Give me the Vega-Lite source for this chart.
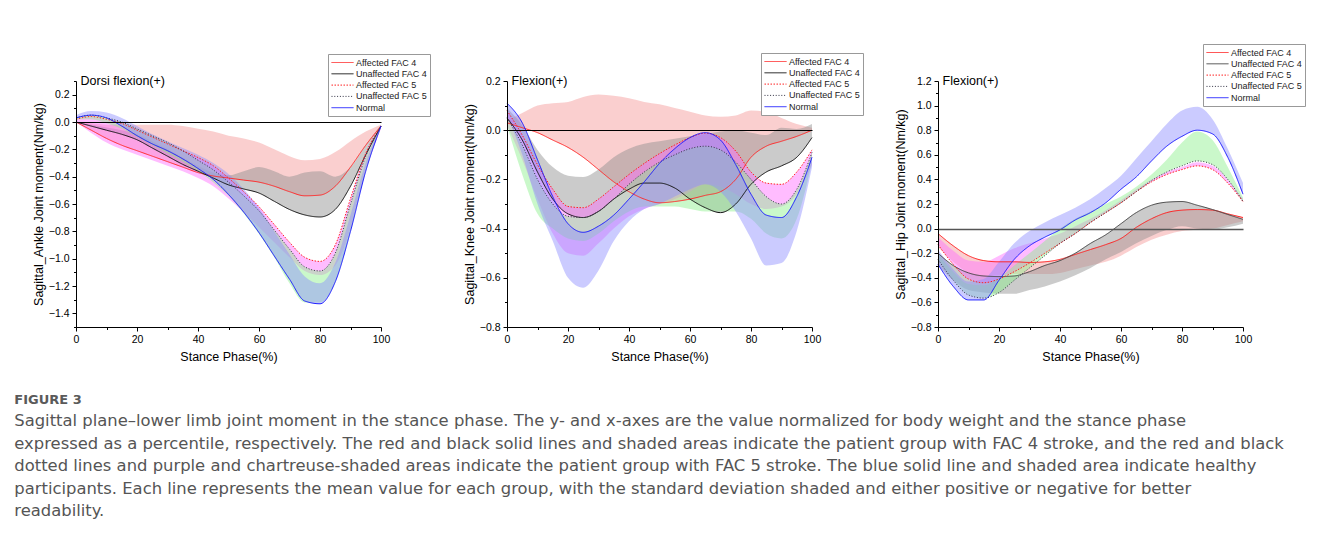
{
"$schema": "https://vega.github.io/schema/vega-lite/v6.json",
"padding": {"left": 14, "top": 43, "right": 10, "bottom": 5},
"background": "white",
"title": {
  "text": "FIGURE 3",
  "subtitle": [
    "Sagittal plane–lower limb joint moment in the stance phase. The y- and x-axes are the value normalized for body weight and the stance phase",
    "expressed as a percentile, respectively. The red and black solid lines and shaded areas indicate the patient group with FAC 4 stroke, and the red and black",
    "dotted lines and purple and chartreuse-shaded areas indicate the patient group with FAC 5 stroke. The blue solid line and shaded area indicate healthy",
    "participants. Each line represents the mean value for each group, with the standard deviation shaded and either positive or negative for better",
    "readability."
  ],
  "orient": "bottom", "anchor": "start", "frame": "bounds", "dx": -18, "offset": 31,
  "font": "DejaVu Sans", "fontSize": 13, "fontWeight": "bold", "color": "#5a5a5a",
  "subtitleFont": "DejaVu Sans", "subtitleFontSize": 16.4, "subtitleColor": "#555555",
  "subtitleLineHeight": 22.5, "subtitlePadding": 6
},
"datasets": {
"ankle": [
{"g":"Affected FAC 4","x":0,"m":0,"b":0},{"g":"Affected FAC 4","x":5,"m":-0.06,"b":-0.01},{"g":"Affected FAC 4","x":10,"m":-0.12,"b":-0.02},{"g":"Affected FAC 4","x":15,"m":-0.17,"b":-0.02},{"g":"Affected FAC 4","x":20,"m":-0.21,"b":-0.02},{"g":"Affected FAC 4","x":25,"m":-0.25,"b":-0.02},{"g":"Affected FAC 4","x":30,"m":-0.29,"b":-0.02},{"g":"Affected FAC 4","x":35,"m":-0.33,"b":-0.03},{"g":"Affected FAC 4","x":40,"m":-0.37,"b":-0.05},{"g":"Affected FAC 4","x":45,"m":-0.395,"b":-0.07},{"g":"Affected FAC 4","x":50,"m":-0.41,"b":-0.1},{"g":"Affected FAC 4","x":55,"m":-0.425,"b":-0.12},{"g":"Affected FAC 4","x":60,"m":-0.44,"b":-0.15},{"g":"Affected FAC 4","x":65,"m":-0.47,"b":-0.2},{"g":"Affected FAC 4","x":70,"m":-0.51,"b":-0.25},{"g":"Affected FAC 4","x":75,"m":-0.54,"b":-0.28},{"g":"Affected FAC 4","x":80,"m":-0.535,"b":-0.27},{"g":"Affected FAC 4","x":85,"m":-0.47,"b":-0.22},{"g":"Affected FAC 4","x":90,"m":-0.33,"b":-0.14},{"g":"Affected FAC 4","x":95,"m":-0.17,"b":-0.07},{"g":"Affected FAC 4","x":100,"m":-0.03,"b":-0.02},
{"g":"Unaffected FAC 4","x":0,"m":0,"b":0},{"g":"Unaffected FAC 4","x":5,"m":-0.03,"b":-0.02},{"g":"Unaffected FAC 4","x":10,"m":-0.06,"b":-0.04},{"g":"Unaffected FAC 4","x":15,"m":-0.09,"b":-0.06},{"g":"Unaffected FAC 4","x":20,"m":-0.13,"b":-0.09},{"g":"Unaffected FAC 4","x":25,"m":-0.19,"b":-0.14},{"g":"Unaffected FAC 4","x":30,"m":-0.25,"b":-0.2},{"g":"Unaffected FAC 4","x":35,"m":-0.31,"b":-0.26},{"g":"Unaffected FAC 4","x":40,"m":-0.36,"b":-0.32},{"g":"Unaffected FAC 4","x":45,"m":-0.41,"b":-0.37},{"g":"Unaffected FAC 4","x":50,"m":-0.46,"b":-0.39},{"g":"Unaffected FAC 4","x":55,"m":-0.49,"b":-0.36},{"g":"Unaffected FAC 4","x":60,"m":-0.52,"b":-0.33},{"g":"Unaffected FAC 4","x":65,"m":-0.58,"b":-0.36},{"g":"Unaffected FAC 4","x":70,"m":-0.64,"b":-0.4},{"g":"Unaffected FAC 4","x":75,"m":-0.68,"b":-0.37},{"g":"Unaffected FAC 4","x":80,"m":-0.695,"b":-0.36},{"g":"Unaffected FAC 4","x":85,"m":-0.64,"b":-0.4},{"g":"Unaffected FAC 4","x":90,"m":-0.47,"b":-0.33},{"g":"Unaffected FAC 4","x":95,"m":-0.24,"b":-0.17},{"g":"Unaffected FAC 4","x":100,"m":-0.03,"b":-0.02},
{"g":"Affected FAC 5","x":0,"m":0.02,"b":0},{"g":"Affected FAC 5","x":5,"m":0.04,"b":-0.08},{"g":"Affected FAC 5","x":10,"m":0.02,"b":-0.15},{"g":"Affected FAC 5","x":15,"m":-0.01,"b":-0.2},{"g":"Affected FAC 5","x":20,"m":-0.06,"b":-0.24},{"g":"Affected FAC 5","x":25,"m":-0.11,"b":-0.28},{"g":"Affected FAC 5","x":30,"m":-0.16,"b":-0.32},{"g":"Affected FAC 5","x":35,"m":-0.21,"b":-0.36},{"g":"Affected FAC 5","x":40,"m":-0.26,"b":-0.41},{"g":"Affected FAC 5","x":45,"m":-0.32,"b":-0.47},{"g":"Affected FAC 5","x":50,"m":-0.41,"b":-0.56},{"g":"Affected FAC 5","x":55,"m":-0.51,"b":-0.66},{"g":"Affected FAC 5","x":60,"m":-0.62,"b":-0.77},{"g":"Affected FAC 5","x":65,"m":-0.75,"b":-0.88},{"g":"Affected FAC 5","x":70,"m":-0.88,"b":-0.99},{"g":"Affected FAC 5","x":75,"m":-0.99,"b":-1.09},{"g":"Affected FAC 5","x":80,"m":-1.02,"b":-1.12},{"g":"Affected FAC 5","x":85,"m":-0.9,"b":-1.05},{"g":"Affected FAC 5","x":90,"m":-0.56,"b":-0.78},{"g":"Affected FAC 5","x":95,"m":-0.23,"b":-0.36},{"g":"Affected FAC 5","x":100,"m":-0.03,"b":-0.05},
{"g":"Unaffected FAC 5","x":0,"m":0.03,"b":0.02},{"g":"Unaffected FAC 5","x":5,"m":0.05,"b":0.02},{"g":"Unaffected FAC 5","x":10,"m":0.03,"b":-0.01},{"g":"Unaffected FAC 5","x":15,"m":0,"b":-0.05},{"g":"Unaffected FAC 5","x":20,"m":-0.05,"b":-0.11},{"g":"Unaffected FAC 5","x":25,"m":-0.1,"b":-0.17},{"g":"Unaffected FAC 5","x":30,"m":-0.15,"b":-0.23},{"g":"Unaffected FAC 5","x":35,"m":-0.21,"b":-0.29},{"g":"Unaffected FAC 5","x":40,"m":-0.28,"b":-0.36},{"g":"Unaffected FAC 5","x":45,"m":-0.35,"b":-0.44},{"g":"Unaffected FAC 5","x":50,"m":-0.44,"b":-0.54},{"g":"Unaffected FAC 5","x":55,"m":-0.54,"b":-0.67},{"g":"Unaffected FAC 5","x":60,"m":-0.65,"b":-0.82},{"g":"Unaffected FAC 5","x":65,"m":-0.79,"b":-0.99},{"g":"Unaffected FAC 5","x":70,"m":-0.93,"b":-1.18},{"g":"Unaffected FAC 5","x":75,"m":-1.06,"b":-1.32},{"g":"Unaffected FAC 5","x":80,"m":-1.09,"b":-1.32},{"g":"Unaffected FAC 5","x":85,"m":-0.96,"b":-1.17},{"g":"Unaffected FAC 5","x":90,"m":-0.6,"b":-0.8},{"g":"Unaffected FAC 5","x":95,"m":-0.25,"b":-0.36},{"g":"Unaffected FAC 5","x":100,"m":-0.03,"b":-0.04},
{"g":"Normal","x":0,"m":0.03,"b":0.05},{"g":"Normal","x":5,"m":0.05,"b":0.08},{"g":"Normal","x":10,"m":0.03,"b":0.07},{"g":"Normal","x":15,"m":-0.03,"b":0.03},{"g":"Normal","x":20,"m":-0.1,"b":-0.03},{"g":"Normal","x":25,"m":-0.16,"b":-0.09},{"g":"Normal","x":30,"m":-0.21,"b":-0.14},{"g":"Normal","x":35,"m":-0.27,"b":-0.19},{"g":"Normal","x":40,"m":-0.34,"b":-0.24},{"g":"Normal","x":45,"m":-0.42,"b":-0.3},{"g":"Normal","x":50,"m":-0.53,"b":-0.38},{"g":"Normal","x":55,"m":-0.66,"b":-0.49},{"g":"Normal","x":60,"m":-0.81,"b":-0.63},{"g":"Normal","x":65,"m":-0.98,"b":-0.8},{"g":"Normal","x":70,"m":-1.15,"b":-0.97},{"g":"Normal","x":75,"m":-1.31,"b":-1.13},{"g":"Normal","x":80,"m":-1.33,"b":-1.18},{"g":"Normal","x":85,"m":-1.17,"b":-1.03},{"g":"Normal","x":90,"m":-0.8,"b":-0.68},{"g":"Normal","x":95,"m":-0.36,"b":-0.3},{"g":"Normal","x":100,"m":-0.03,"b":-0.02}
],
"knee": [
{"g":"Affected FAC 4","x":0,"m":0.03,"b":0.04},{"g":"Affected FAC 4","x":5,"m":0.01,"b":0.07},{"g":"Affected FAC 4","x":10,"m":-0.01,"b":0.1},{"g":"Affected FAC 4","x":15,"m":-0.04,"b":0.11},{"g":"Affected FAC 4","x":20,"m":-0.07,"b":0.115},{"g":"Affected FAC 4","x":25,"m":-0.11,"b":0.135},{"g":"Affected FAC 4","x":30,"m":-0.16,"b":0.145},{"g":"Affected FAC 4","x":35,"m":-0.21,"b":0.14},{"g":"Affected FAC 4","x":40,"m":-0.25,"b":0.13},{"g":"Affected FAC 4","x":45,"m":-0.28,"b":0.115},{"g":"Affected FAC 4","x":50,"m":-0.295,"b":0.105},{"g":"Affected FAC 4","x":55,"m":-0.29,"b":0.09},{"g":"Affected FAC 4","x":60,"m":-0.28,"b":0.075},{"g":"Affected FAC 4","x":65,"m":-0.265,"b":0.06},{"g":"Affected FAC 4","x":70,"m":-0.25,"b":0.055},{"g":"Affected FAC 4","x":75,"m":-0.2,"b":0.06},{"g":"Affected FAC 4","x":80,"m":-0.11,"b":0.08},{"g":"Affected FAC 4","x":85,"m":-0.065,"b":0.075},{"g":"Affected FAC 4","x":90,"m":-0.045,"b":0.05},{"g":"Affected FAC 4","x":95,"m":-0.025,"b":0.025},{"g":"Affected FAC 4","x":100,"m":0,"b":0.01},
{"g":"Unaffected FAC 4","x":0,"m":0.05,"b":0.09},{"g":"Unaffected FAC 4","x":5,"m":-0.04,"b":0.02},{"g":"Unaffected FAC 4","x":10,"m":-0.17,"b":-0.08},{"g":"Unaffected FAC 4","x":15,"m":-0.28,"b":-0.15},{"g":"Unaffected FAC 4","x":20,"m":-0.34,"b":-0.185},{"g":"Unaffected FAC 4","x":25,"m":-0.355,"b":-0.19},{"g":"Unaffected FAC 4","x":30,"m":-0.33,"b":-0.16},{"g":"Unaffected FAC 4","x":35,"m":-0.28,"b":-0.11},{"g":"Unaffected FAC 4","x":40,"m":-0.24,"b":-0.075},{"g":"Unaffected FAC 4","x":45,"m":-0.215,"b":-0.055},{"g":"Unaffected FAC 4","x":50,"m":-0.215,"b":-0.045},{"g":"Unaffected FAC 4","x":55,"m":-0.235,"b":-0.035},{"g":"Unaffected FAC 4","x":60,"m":-0.28,"b":-0.025},{"g":"Unaffected FAC 4","x":65,"m":-0.315,"b":-0.015},{"g":"Unaffected FAC 4","x":70,"m":-0.335,"b":-0.005},{"g":"Unaffected FAC 4","x":75,"m":-0.3,"b":0},{"g":"Unaffected FAC 4","x":80,"m":-0.22,"b":-0.01},{"g":"Unaffected FAC 4","x":85,"m":-0.17,"b":-0.02},{"g":"Unaffected FAC 4","x":90,"m":-0.145,"b":0.01},{"g":"Unaffected FAC 4","x":95,"m":-0.11,"b":0.005},{"g":"Unaffected FAC 4","x":100,"m":-0.03,"b":0.025},
{"g":"Affected FAC 5","x":0,"m":0.08,"b":0.02},{"g":"Affected FAC 5","x":5,"m":-0.02,"b":-0.12},{"g":"Affected FAC 5","x":10,"m":-0.14,"b":-0.28},{"g":"Affected FAC 5","x":15,"m":-0.24,"b":-0.42},{"g":"Affected FAC 5","x":20,"m":-0.31,"b":-0.5},{"g":"Affected FAC 5","x":25,"m":-0.315,"b":-0.51},{"g":"Affected FAC 5","x":30,"m":-0.28,"b":-0.46},{"g":"Affected FAC 5","x":35,"m":-0.23,"b":-0.4},{"g":"Affected FAC 5","x":40,"m":-0.18,"b":-0.35},{"g":"Affected FAC 5","x":45,"m":-0.135,"b":-0.32},{"g":"Affected FAC 5","x":50,"m":-0.095,"b":-0.3},{"g":"Affected FAC 5","x":55,"m":-0.06,"b":-0.28},{"g":"Affected FAC 5","x":60,"m":-0.03,"b":-0.25},{"g":"Affected FAC 5","x":65,"m":-0.012,"b":-0.22},{"g":"Affected FAC 5","x":70,"m":-0.03,"b":-0.23},{"g":"Affected FAC 5","x":75,"m":-0.085,"b":-0.26},{"g":"Affected FAC 5","x":80,"m":-0.17,"b":-0.3},{"g":"Affected FAC 5","x":85,"m":-0.215,"b":-0.32},{"g":"Affected FAC 5","x":90,"m":-0.22,"b":-0.31},{"g":"Affected FAC 5","x":95,"m":-0.17,"b":-0.26},{"g":"Affected FAC 5","x":100,"m":-0.08,"b":-0.14},
{"g":"Unaffected FAC 5","x":0,"m":0.05,"b":0.02},{"g":"Unaffected FAC 5","x":5,"m":-0.06,"b":-0.18},{"g":"Unaffected FAC 5","x":10,"m":-0.2,"b":-0.34},{"g":"Unaffected FAC 5","x":15,"m":-0.3,"b":-0.4},{"g":"Unaffected FAC 5","x":20,"m":-0.35,"b":-0.44},{"g":"Unaffected FAC 5","x":25,"m":-0.355,"b":-0.45},{"g":"Unaffected FAC 5","x":30,"m":-0.33,"b":-0.42},{"g":"Unaffected FAC 5","x":35,"m":-0.28,"b":-0.37},{"g":"Unaffected FAC 5","x":40,"m":-0.22,"b":-0.33},{"g":"Unaffected FAC 5","x":45,"m":-0.17,"b":-0.31},{"g":"Unaffected FAC 5","x":50,"m":-0.13,"b":-0.31},{"g":"Unaffected FAC 5","x":55,"m":-0.1,"b":-0.31},{"g":"Unaffected FAC 5","x":60,"m":-0.075,"b":-0.32},{"g":"Unaffected FAC 5","x":65,"m":-0.065,"b":-0.33},{"g":"Unaffected FAC 5","x":70,"m":-0.08,"b":-0.33},{"g":"Unaffected FAC 5","x":75,"m":-0.13,"b":-0.33},{"g":"Unaffected FAC 5","x":80,"m":-0.2,"b":-0.36},{"g":"Unaffected FAC 5","x":85,"m":-0.27,"b":-0.42},{"g":"Unaffected FAC 5","x":90,"m":-0.3,"b":-0.44},{"g":"Unaffected FAC 5","x":95,"m":-0.24,"b":-0.36},{"g":"Unaffected FAC 5","x":100,"m":-0.09,"b":-0.13},
{"g":"Normal","x":0,"m":0.11,"b":0.06},{"g":"Normal","x":5,"m":0.03,"b":-0.1},{"g":"Normal","x":10,"m":-0.12,"b":-0.3},{"g":"Normal","x":15,"m":-0.27,"b":-0.45},{"g":"Normal","x":20,"m":-0.38,"b":-0.6},{"g":"Normal","x":25,"m":-0.415,"b":-0.64},{"g":"Normal","x":30,"m":-0.39,"b":-0.57},{"g":"Normal","x":35,"m":-0.345,"b":-0.45},{"g":"Normal","x":40,"m":-0.28,"b":-0.37},{"g":"Normal","x":45,"m":-0.21,"b":-0.32},{"g":"Normal","x":50,"m":-0.135,"b":-0.3},{"g":"Normal","x":55,"m":-0.075,"b":-0.27},{"g":"Normal","x":60,"m":-0.03,"b":-0.24},{"g":"Normal","x":65,"m":-0.01,"b":-0.22},{"g":"Normal","x":70,"m":-0.04,"b":-0.25},{"g":"Normal","x":75,"m":-0.14,"b":-0.33},{"g":"Normal","x":80,"m":-0.26,"b":-0.44},{"g":"Normal","x":85,"m":-0.345,"b":-0.55},{"g":"Normal","x":90,"m":-0.355,"b":-0.54},{"g":"Normal","x":95,"m":-0.27,"b":-0.41},{"g":"Normal","x":100,"m":-0.11,"b":-0.15}
],
"hip": [
{"g":"Affected FAC 4","x":0,"m":-0.04,"b":-0.15},{"g":"Affected FAC 4","x":5,"m":-0.14,"b":-0.27},{"g":"Affected FAC 4","x":10,"m":-0.22,"b":-0.36},{"g":"Affected FAC 4","x":15,"m":-0.26,"b":-0.39},{"g":"Affected FAC 4","x":20,"m":-0.27,"b":-0.38},{"g":"Affected FAC 4","x":25,"m":-0.27,"b":-0.37},{"g":"Affected FAC 4","x":30,"m":-0.275,"b":-0.37},{"g":"Affected FAC 4","x":35,"m":-0.27,"b":-0.37},{"g":"Affected FAC 4","x":40,"m":-0.25,"b":-0.36},{"g":"Affected FAC 4","x":45,"m":-0.21,"b":-0.33},{"g":"Affected FAC 4","x":50,"m":-0.17,"b":-0.3},{"g":"Affected FAC 4","x":55,"m":-0.13,"b":-0.27},{"g":"Affected FAC 4","x":60,"m":-0.08,"b":-0.22},{"g":"Affected FAC 4","x":65,"m":0.01,"b":-0.15},{"g":"Affected FAC 4","x":70,"m":0.08,"b":-0.09},{"g":"Affected FAC 4","x":75,"m":0.13,"b":-0.05},{"g":"Affected FAC 4","x":80,"m":0.15,"b":-0.02},{"g":"Affected FAC 4","x":85,"m":0.155,"b":-0.01},{"g":"Affected FAC 4","x":90,"m":0.15,"b":0},{"g":"Affected FAC 4","x":95,"m":0.12,"b":0.03},{"g":"Affected FAC 4","x":100,"m":0.09,"b":0.06},
{"g":"Unaffected FAC 4","x":0,"m":-0.2,"b":-0.3},{"g":"Unaffected FAC 4","x":5,"m":-0.3,"b":-0.42},{"g":"Unaffected FAC 4","x":10,"m":-0.36,"b":-0.5},{"g":"Unaffected FAC 4","x":15,"m":-0.385,"b":-0.52},{"g":"Unaffected FAC 4","x":20,"m":-0.39,"b":-0.53},{"g":"Unaffected FAC 4","x":25,"m":-0.385,"b":-0.53},{"g":"Unaffected FAC 4","x":30,"m":-0.35,"b":-0.5},{"g":"Unaffected FAC 4","x":35,"m":-0.3,"b":-0.47},{"g":"Unaffected FAC 4","x":40,"m":-0.26,"b":-0.43},{"g":"Unaffected FAC 4","x":45,"m":-0.2,"b":-0.38},{"g":"Unaffected FAC 4","x":50,"m":-0.12,"b":-0.32},{"g":"Unaffected FAC 4","x":55,"m":-0.05,"b":-0.25},{"g":"Unaffected FAC 4","x":60,"m":0.04,"b":-0.19},{"g":"Unaffected FAC 4","x":65,"m":0.13,"b":-0.12},{"g":"Unaffected FAC 4","x":70,"m":0.19,"b":-0.06},{"g":"Unaffected FAC 4","x":75,"m":0.215,"b":-0.01},{"g":"Unaffected FAC 4","x":80,"m":0.22,"b":0.02},{"g":"Unaffected FAC 4","x":85,"m":0.19,"b":0},{"g":"Unaffected FAC 4","x":90,"m":0.155,"b":-0.01},{"g":"Unaffected FAC 4","x":95,"m":0.115,"b":0.01},{"g":"Unaffected FAC 4","x":100,"m":0.075,"b":0.04},
{"g":"Affected FAC 5","x":0,"m":-0.13,"b":-0.07},{"g":"Affected FAC 5","x":5,"m":-0.29,"b":-0.18},{"g":"Affected FAC 5","x":10,"m":-0.41,"b":-0.26},{"g":"Affected FAC 5","x":15,"m":-0.44,"b":-0.27},{"g":"Affected FAC 5","x":20,"m":-0.41,"b":-0.22},{"g":"Affected FAC 5","x":25,"m":-0.35,"b":-0.16},{"g":"Affected FAC 5","x":30,"m":-0.28,"b":-0.12},{"g":"Affected FAC 5","x":35,"m":-0.2,"b":-0.08},{"g":"Affected FAC 5","x":40,"m":-0.12,"b":-0.04},{"g":"Affected FAC 5","x":45,"m":-0.04,"b":0.02},{"g":"Affected FAC 5","x":50,"m":0.05,"b":0.08},{"g":"Affected FAC 5","x":55,"m":0.13,"b":0.15},{"g":"Affected FAC 5","x":60,"m":0.21,"b":0.23},{"g":"Affected FAC 5","x":65,"m":0.3,"b":0.32},{"g":"Affected FAC 5","x":70,"m":0.38,"b":0.4},{"g":"Affected FAC 5","x":75,"m":0.44,"b":0.46},{"g":"Affected FAC 5","x":80,"m":0.48,"b":0.5},{"g":"Affected FAC 5","x":85,"m":0.51,"b":0.54},{"g":"Affected FAC 5","x":90,"m":0.48,"b":0.51},{"g":"Affected FAC 5","x":95,"m":0.37,"b":0.4},{"g":"Affected FAC 5","x":100,"m":0.22,"b":0.24},
{"g":"Unaffected FAC 5","x":0,"m":-0.25,"b":-0.2},{"g":"Unaffected FAC 5","x":5,"m":-0.42,"b":-0.35},{"g":"Unaffected FAC 5","x":10,"m":-0.54,"b":-0.45},{"g":"Unaffected FAC 5","x":15,"m":-0.565,"b":-0.46},{"g":"Unaffected FAC 5","x":20,"m":-0.52,"b":-0.4},{"g":"Unaffected FAC 5","x":25,"m":-0.42,"b":-0.3},{"g":"Unaffected FAC 5","x":30,"m":-0.32,"b":-0.2},{"g":"Unaffected FAC 5","x":35,"m":-0.22,"b":-0.1},{"g":"Unaffected FAC 5","x":40,"m":-0.12,"b":0},{"g":"Unaffected FAC 5","x":45,"m":-0.04,"b":0.08},{"g":"Unaffected FAC 5","x":50,"m":0.05,"b":0.14},{"g":"Unaffected FAC 5","x":55,"m":0.13,"b":0.2},{"g":"Unaffected FAC 5","x":60,"m":0.21,"b":0.26},{"g":"Unaffected FAC 5","x":65,"m":0.3,"b":0.34},{"g":"Unaffected FAC 5","x":70,"m":0.39,"b":0.44},{"g":"Unaffected FAC 5","x":75,"m":0.46,"b":0.56},{"g":"Unaffected FAC 5","x":80,"m":0.51,"b":0.7},{"g":"Unaffected FAC 5","x":85,"m":0.55,"b":0.79},{"g":"Unaffected FAC 5","x":90,"m":0.52,"b":0.72},{"g":"Unaffected FAC 5","x":95,"m":0.4,"b":0.5},{"g":"Unaffected FAC 5","x":100,"m":0.22,"b":0.25},
{"g":"Normal","x":0,"m":-0.29,"b":-0.17},{"g":"Normal","x":5,"m":-0.47,"b":-0.33},{"g":"Normal","x":10,"m":-0.58,"b":-0.43},{"g":"Normal","x":15,"m":-0.58,"b":-0.41},{"g":"Normal","x":20,"m":-0.42,"b":-0.27},{"g":"Normal","x":25,"m":-0.25,"b":-0.12},{"g":"Normal","x":30,"m":-0.14,"b":-0.02},{"g":"Normal","x":35,"m":-0.07,"b":0.05},{"g":"Normal","x":40,"m":-0.01,"b":0.11},{"g":"Normal","x":45,"m":0.07,"b":0.17},{"g":"Normal","x":50,"m":0.13,"b":0.24},{"g":"Normal","x":55,"m":0.21,"b":0.33},{"g":"Normal","x":60,"m":0.32,"b":0.43},{"g":"Normal","x":65,"m":0.42,"b":0.57},{"g":"Normal","x":70,"m":0.55,"b":0.71},{"g":"Normal","x":75,"m":0.67,"b":0.85},{"g":"Normal","x":80,"m":0.75,"b":0.96},{"g":"Normal","x":85,"m":0.8,"b":0.99},{"g":"Normal","x":90,"m":0.77,"b":0.89},{"g":"Normal","x":95,"m":0.58,"b":0.65},{"g":"Normal","x":100,"m":0.28,"b":0.37}
]
},
"hconcat": [
{
  "width": 305, "height": 246,
  "data": {"name": "ankle"},
  "encoding": {
    "x": {"field": "x", "type": "quantitative", "scale": {"domain": [0, 100], "nice": false},
      "axis": {"title": "Stance Phase(%)", "values": [0,10,20,30,40,50,60,70,80,90,100], "labelExpr": "datum.value % 20 == 0 ? datum.label : ''", "tickSize": {"condition": {"test": "datum.value % 20 == 0", "value": 4}, "value": 2.5}, "titlePadding": 6, "labelFlush": false, "labelOverlap": false}},
    "y": {"field": "m", "type": "quantitative", "scale": {"domain": [-1.5, 0.3], "nice": false, "zero": false},
      "axis": {"title": "Sagittal_Ankle Joint moment(Nm/kg)", "values": [-1.5,-1.4,-1.3,-1.2,-1.1,-1,-0.9,-0.8,-0.7,-0.6,-0.5,-0.4,-0.3,-0.2,-0.1,0,0.1,0.2,0.3], "labelExpr": "abs(round(datum.value*10)) % 2 == 0 ? format(datum.value, '.1f') : ''", "tickSize": {"condition": {"test": "abs(round(datum.value*10)) % 2 == 0", "value": 4}, "value": 2.5}, "titlePadding": 3, "labelOverlap": false, "grid": true, "gridColor": "black", "gridWidth": 1, "gridOpacity": {"condition": {"test": "datum.value == 0", "value": 1}, "value": 0}, "zindex": 1}}
  },
  "layer": [
    {"mark": {"type": "area", "interpolate": "monotone", "opacity": 0.45},
     "encoding": {"y2": {"field": "b"},
       "fill": {"field": "g", "type": "nominal", "scale": {"domain": ["Normal","Unaffected FAC 5","Affected FAC 5","Unaffected FAC 4","Affected FAC 4"], "range": ["#8c8cff","#8af08a","#ff6bff","#8c8c8c","#f39494"]}, "legend": null}}},
    {"mark": {"type": "line", "interpolate": "monotone", "strokeWidth": 1},
     "encoding": {
       "stroke": {"field": "g", "type": "nominal", "scale": {"domain": ["Affected FAC 4","Unaffected FAC 4","Affected FAC 5","Unaffected FAC 5","Normal"], "range": ["#ff2a2a","#111111","#ff2020","#333344","#1a1aff"]},
         "legend": {"orient": "none", "legendX": 252, "legendY": -27, "title": null, "symbolType": "M-1,0H3.4", "symbolSize": 100, "symbolStrokeWidth": 1, "symbolOpacity": 1, "labelFont": "Liberation Sans", "labelFontSize": 9, "labelColor": "#222222", "labelOffset": 14, "strokeColor": "#999999", "fillColor": "white", "padding": 3, "rowPadding": 0.3}},
       "strokeDash": {"field": "g", "type": "nominal", "scale": {"domain": ["Affected FAC 4","Unaffected FAC 4","Affected FAC 5","Unaffected FAC 5","Normal"], "range": [[1,0],[1,0],[1.5,1.5],[1,1.8],[1,0]]},
         "legend": {"orient": "none", "legendX": 252, "legendY": -27, "title": null, "symbolType": "M-1,0H3.4", "symbolSize": 100, "symbolStrokeWidth": 1, "symbolOpacity": 1, "labelFont": "Liberation Sans", "labelFontSize": 9, "labelColor": "#222222", "labelOffset": 14, "strokeColor": "#999999", "fillColor": "white", "padding": 3, "rowPadding": 0.3}}
     }},
    {"transform": [{"filter": "datum.g == 'Normal' && datum.x == 0"}],
     "mark": {"type": "text", "align": "left", "baseline": "middle", "font": "Liberation Sans", "fontSize": 12.5, "color": "black"},
     "encoding": {"x": {"datum": 1.5}, "y": {"datum": 0.3}, "text": {"value": "Dorsi flexion(+)"}}}
  ]
},
{
  "width": 305, "height": 246,
  "data": {"name": "knee"},
  "encoding": {
    "x": {"field": "x", "type": "quantitative", "scale": {"domain": [0, 100], "nice": false},
      "axis": {"title": "Stance Phase(%)", "values": [0,10,20,30,40,50,60,70,80,90,100], "labelExpr": "datum.value % 20 == 0 ? datum.label : ''", "tickSize": {"condition": {"test": "datum.value % 20 == 0", "value": 4}, "value": 2.5}, "titlePadding": 6, "labelFlush": false, "labelOverlap": false}},
    "y": {"field": "m", "type": "quantitative", "scale": {"domain": [-0.8, 0.2], "nice": false, "zero": false},
      "axis": {"title": "Sagittal_Knee Joint moment(Nm/kg)", "values": [-0.8,-0.7,-0.6,-0.5,-0.4,-0.3,-0.2,-0.1,0,0.1,0.2], "labelExpr": "abs(round(datum.value*10)) % 2 == 0 ? format(datum.value, '.1f') : ''", "tickSize": {"condition": {"test": "abs(round(datum.value*10)) % 2 == 0", "value": 4}, "value": 2.5}, "titlePadding": 3, "labelOverlap": false, "grid": true, "gridColor": "black", "gridWidth": 1, "gridOpacity": {"condition": {"test": "datum.value == 0", "value": 1}, "value": 0}, "zindex": 1}}
  },
  "layer": [
    {"mark": {"type": "area", "interpolate": "monotone", "opacity": 0.45},
     "encoding": {"y2": {"field": "b"},
       "fill": {"field": "g", "type": "nominal", "scale": {"domain": ["Normal","Unaffected FAC 5","Affected FAC 5","Unaffected FAC 4","Affected FAC 4"], "range": ["#8c8cff","#8af08a","#ff6bff","#8c8c8c","#f39494"]}, "legend": null}}},
    {"mark": {"type": "line", "interpolate": "monotone", "strokeWidth": 1},
     "encoding": {
       "stroke": {"field": "g", "type": "nominal", "scale": {"domain": ["Affected FAC 4","Unaffected FAC 4","Affected FAC 5","Unaffected FAC 5","Normal"], "range": ["#ff2a2a","#111111","#ff2020","#333344","#1a1aff"]},
         "legend": {"orient": "none", "legendX": 254, "legendY": -28, "title": null, "symbolType": "M-1,0H3.4", "symbolSize": 100, "symbolStrokeWidth": 1, "symbolOpacity": 1, "labelFont": "Liberation Sans", "labelFontSize": 9, "labelColor": "#222222", "labelOffset": 14, "strokeColor": "#999999", "fillColor": "white", "padding": 3, "rowPadding": 0.3}},
       "strokeDash": {"field": "g", "type": "nominal", "scale": {"domain": ["Affected FAC 4","Unaffected FAC 4","Affected FAC 5","Unaffected FAC 5","Normal"], "range": [[1,0],[1,0],[1.5,1.5],[1,1.8],[1,0]]},
         "legend": {"orient": "none", "legendX": 254, "legendY": -28, "title": null, "symbolType": "M-1,0H3.4", "symbolSize": 100, "symbolStrokeWidth": 1, "symbolOpacity": 1, "labelFont": "Liberation Sans", "labelFontSize": 9, "labelColor": "#222222", "labelOffset": 14, "strokeColor": "#999999", "fillColor": "white", "padding": 3, "rowPadding": 0.3}}
     }},
    {"transform": [{"filter": "datum.g == 'Normal' && datum.x == 0"}],
     "mark": {"type": "text", "align": "left", "baseline": "middle", "font": "Liberation Sans", "fontSize": 12.5, "color": "black"},
     "encoding": {"x": {"datum": 1.5}, "y": {"datum": 0.2}, "text": {"value": "Flexion(+)"}}}
  ]
},
{
  "width": 305, "height": 246,
  "data": {"name": "hip"},
  "encoding": {
    "x": {"field": "x", "type": "quantitative", "scale": {"domain": [0, 100], "nice": false},
      "axis": {"title": "Stance Phase(%)", "values": [0,10,20,30,40,50,60,70,80,90,100], "labelExpr": "datum.value % 20 == 0 ? datum.label : ''", "tickSize": {"condition": {"test": "datum.value % 20 == 0", "value": 4}, "value": 2.5}, "titlePadding": 6, "labelFlush": false, "labelOverlap": false}},
    "y": {"field": "m", "type": "quantitative", "scale": {"domain": [-0.8, 1.2], "nice": false, "zero": false},
      "axis": {"title": "Sagittal_Hip Joint moment(Nm/kg)", "values": [-0.8,-0.7,-0.6,-0.5,-0.4,-0.3,-0.2,-0.1,0,0.1,0.2,0.3,0.4,0.5,0.6,0.7,0.8,0.9,1,1.1,1.2], "labelExpr": "abs(round(datum.value*10)) % 2 == 0 ? format(datum.value, '.1f') : ''", "tickSize": {"condition": {"test": "abs(round(datum.value*10)) % 2 == 0", "value": 4}, "value": 2.5}, "titlePadding": 3, "labelOverlap": false, "grid": true, "gridColor": "#555555", "gridWidth": 1.6, "gridOpacity": {"condition": {"test": "datum.value == 0", "value": 1}, "value": 0}, "zindex": 1}}
  },
  "layer": [
    {"mark": {"type": "area", "interpolate": "monotone", "opacity": 0.45},
     "encoding": {"y2": {"field": "b"},
       "fill": {"field": "g", "type": "nominal", "scale": {"domain": ["Normal","Unaffected FAC 5","Affected FAC 5","Unaffected FAC 4","Affected FAC 4"], "range": ["#8c8cff","#8af08a","#ff6bff","#8c8c8c","#f39494"]}, "legend": null}}},
    {"mark": {"type": "line", "interpolate": "monotone", "strokeWidth": 1},
     "encoding": {
       "stroke": {"field": "g", "type": "nominal", "scale": {"domain": ["Affected FAC 4","Unaffected FAC 4","Affected FAC 5","Unaffected FAC 5","Normal"], "range": ["#ff2020","#444444","#ff2020","#333344","#1a1aff"]},
         "legend": {"orient": "none", "legendX": 265, "legendY": -37, "title": null, "symbolType": "M-1,0H3.4", "symbolSize": 100, "symbolStrokeWidth": 1, "symbolOpacity": 1, "labelFont": "Liberation Sans", "labelFontSize": 9, "labelColor": "#222222", "labelOffset": 14, "strokeColor": "#999999", "fillColor": "white", "padding": 3, "rowPadding": 0.3}},
       "strokeDash": {"field": "g", "type": "nominal", "scale": {"domain": ["Affected FAC 4","Unaffected FAC 4","Affected FAC 5","Unaffected FAC 5","Normal"], "range": [[1,0],[1,0],[1.5,1.5],[1,1.8],[1,0]]},
         "legend": {"orient": "none", "legendX": 265, "legendY": -37, "title": null, "symbolType": "M-1,0H3.4", "symbolSize": 100, "symbolStrokeWidth": 1, "symbolOpacity": 1, "labelFont": "Liberation Sans", "labelFontSize": 9, "labelColor": "#222222", "labelOffset": 14, "strokeColor": "#999999", "fillColor": "white", "padding": 3, "rowPadding": 0.3}}
     }},
    {"transform": [{"filter": "datum.g == 'Normal' && datum.x == 0"}],
     "mark": {"type": "text", "align": "left", "baseline": "middle", "font": "Liberation Sans", "fontSize": 12.5, "color": "black"},
     "encoding": {"x": {"datum": 1.5}, "y": {"datum": 1.2}, "text": {"value": "Flexion(+)"}}}
  ]
}
],
"spacing": 126,
"bounds": "flush",
"resolve": {
  "scale": {"x": "independent", "y": "independent", "fill": "independent", "stroke": "independent", "strokeDash": "independent"}
},
"config": {
  "view": {"stroke": null},
  "font": "Liberation Sans",
  "axis": {"domainColor": "black", "tickColor": "black", "labelColor": "black", "titleColor": "black", "labelFont": "Liberation Sans", "titleFont": "Liberation Sans", "labelFontSize": 10.5, "titleFontSize": 12.5, "titleFontWeight": "normal", "grid": false, "labelPadding": 3, "tickWidth": 1, "domainWidth": 1}
}
}
